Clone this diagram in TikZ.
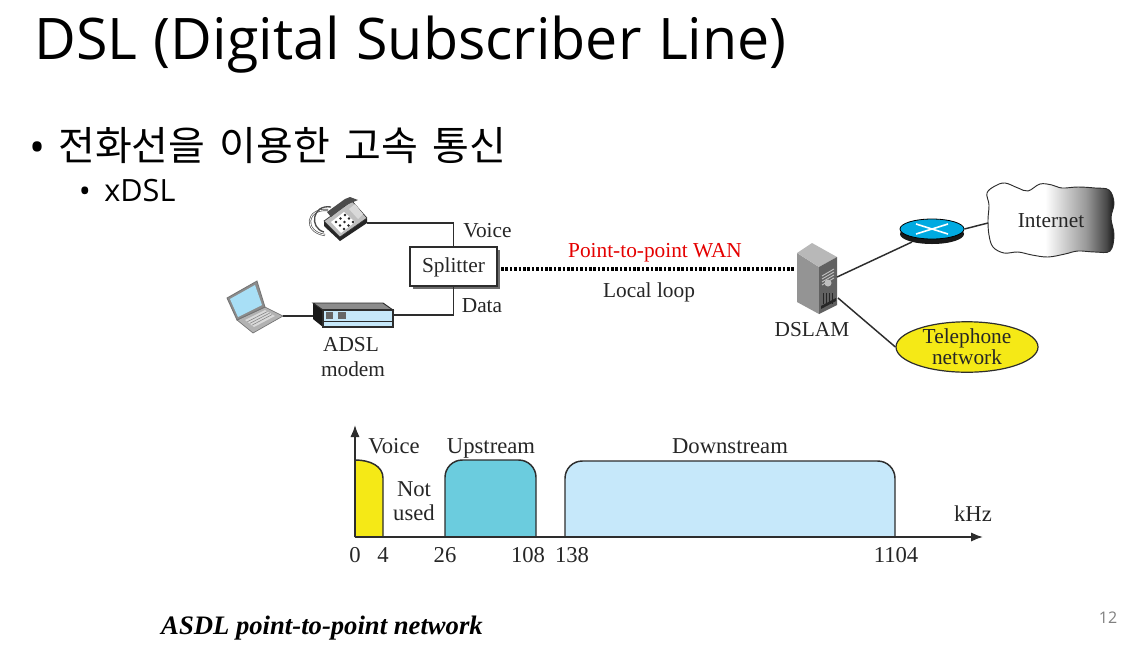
\documentclass[tikz,border=0pt]{standalone}
\usepackage{fontspec}
\setmainfont{Liberation Serif}
\newfontfamily\slidefont[WordSpace=1.12]{Open Sans}
\newfontfamily\krfont[WordSpace=1.6]{Noto Sans CJK KR}
\usetikzlibrary{shapes.geometric,arrows.meta}
\definecolor{voiceyellow}{RGB}{245,233,22}
\definecolor{upcyan}{RGB}{107,204,222}
\definecolor{downblue}{RGB}{198,232,250}
\definecolor{routerblue}{RGB}{0,170,225}
\definecolor{linegray}{RGB}{45,45,45}
\definecolor{boxshadow}{RGB}{110,110,110}
\pgfdeclarehorizontalshading{cloudshade}{100bp}{color(0bp)=(white); color(48bp)=(white); color(64bp)=(black!40); color(72bp)=(black!72); color(75bp)=(black!92); color(100bp)=(black!92)}
\begin{document}
\begin{tikzpicture}[
    x=0.75pt, y=-0.75pt,
    lbl/.style={font=\fontsize{16}{16}\selectfont, inner sep=0, text=black!85, text height=10.5pt, text depth=3.5pt},
    chartlbl/.style={lbl, font=\fontsize{17}{17}\selectfont},
    wire/.style={draw=linegray, line width=1.1pt},
    band/.style={draw=linegray, line width=1.1pt},
    axisline/.style={-{Latex[length=9pt,width=7pt]}, draw=linegray, line width=1.3pt}
]
\useasboundingbox[fill=white] (0,0) rectangle (1133,644);

% Slide text
\node[font=\slidefont\fontsize{43}{43}\selectfont, anchor=base west, inner sep=0] (title) at (34,59) {DSL (Digital Subscriber Line)};
\node[font=\slidefont\fontsize{32}{32}\selectfont, anchor=base, inner sep=0] (bulleta) at (38,162) {•};
\node[font=\krfont\fontsize{30}{30}\selectfont, anchor=west, inner sep=0] (topic) at (58,146) {전화선을 이용한 고속 통신};
\node[font=\slidefont\fontsize{24}{24}\selectfont, anchor=base, inner sep=0] (bulletb) at (85,202) {•};
\node[font=\slidefont\fontsize{23}{23}\selectfont, anchor=west, inner sep=0] (xdsl) at (104,191) {xDSL};

% Telephone
\draw[black!70, line width=1.6pt] (328,210) .. controls (306,208) and (303,232) .. (325,235);
\draw[white, line width=0.6pt] (328,210) .. controls (306,208) and (303,232) .. (325,235);
\draw[black!70, line width=1pt] (331,207) .. controls (312,204) and (309,228) .. (324,232);
\fill[black!85] (324,222) -- (353,203) -- (367,219) -- (367,223) -- (340,241) -- (324,226) -- cycle;
\draw[black!80, line width=0.5pt, fill=black!25] (324,221) -- (352,201) -- (367,218) -- (340,237) -- cycle;
\fill[black!70] (327,212) -- (345,199) -- (350,197) -- (358,200) -- (346,205) -- (331,217) -- cycle;
\fill[white] (331,222) -- (344,212) -- (355,222) -- (341,233) -- cycle;
\foreach \i in {0,1,2} \foreach \j in {0,1,2}
    \fill[black!85] ({336+\i*4.5+\j*4},{222-\i*3.5+\j*3.5}) circle (1.3);
\fill[black!15] (349,209) -- (355,204) -- (363,214) -- (358,219) -- cycle;
\coordinate (phoneport) at (367,223);

% Laptop
\draw[black!55, line width=0.5pt, fill=black!30] (237,320) -- (265,307) -- (283,316) -- (253,333) -- cycle;
\draw[black!55, line width=0.6pt, fill=black!45] (227,298) -- (257,281) -- (265,307) -- (237,320) -- cycle;
\fill[downblue!85!routerblue] (230,299) -- (255,285) -- (262,305) -- (238,317) -- cycle;
\fill[black!15] (245,320) -- (265,310) -- (275,316) -- (254,327) -- cycle;
\foreach \i in {1,2,3}
    \draw[black!50, line width=0.4pt] ({245+\i*2.4},{320+\i*1.7}) -- ({265+\i*2.4},{310+\i*1.5});
\coordinate (laptopport) at (283,316);

% ADSL modem
\fill[black!90] (313,303) -- (323,310) -- (323,327) -- (313,319) -- cycle;
\draw[linegray, line width=0.7pt, fill=black!45] (313,303) -- (383,303) -- (393,310) -- (323,310) -- cycle;
\draw[linegray, line width=0.9pt, fill=downblue] (323,310) rectangle (393,327);
\draw[linegray, line width=0.5pt] (323,321) -- (393,321);
\fill[black!60] (326,312) rectangle (333,319);
\fill[black!60] (338,312) rectangle (346,319);
\coordinate (modemwest) at (313,316);
\coordinate (modemeast) at (393,315);
\node[lbl] (adsl) at (351,347) {ADSL};
\node[lbl] (modem) at (353,372) {modem};

% Splitter
\fill[boxshadow] (413,250) rectangle (500,289);
\node[lbl, text depth=2pt, draw=linegray, line width=0.8pt, fill=white, minimum width=65.25pt, minimum height=29.25pt] (splitter) at (453.5,266.5) {Splitter};
\node[lbl] (voice) at (487.5,233) {Voice};
\node[lbl] (data) at (482,308) {Data};
\draw[wire] (phoneport) -| (splitter.north);
\draw[wire] (modemeast) -| (splitter.south);
\draw[wire] (laptopport) -- (modemwest);

% DSLAM
\fill[black!42] (797,253) -- (819,267) -- (819,314) -- (797,302) -- cycle;
\fill[black!28] (797,253) -- (812,243) -- (837,257) -- (819,267) -- cycle;
\fill[black!62] (819,267) -- (837,257) -- (837,305) -- (819,314) -- cycle;
\foreach \i in {0,1,2,3}
    \draw[black!25, line width=0.7pt] (822,{276+\i*3}) -- (834,{269+\i*3});
\fill[black!25] (828,283) circle (3.5);
\foreach \i in {0,1,2,3}
    \draw[black!85, line width=0.6pt] ({823+\i*3},293) -- ({823+\i*3},304);
\fill[black!85] (821,306) -- (836,298) -- (836,301) -- (821,309) -- cycle;
\coordinate (dslamwest) at (795,269);
\coordinate (dslamup) at (837,277);
\coordinate (dslamdown) at (838,298);
\node[lbl] (dslam) at (812,332) {DSLAM};

% Local loop
\coordinate (splitterport) at (501,269);
\draw[line width=3pt, black, dash pattern=on 2pt off 1.3pt] (splitterport) -- (dslamwest);
\node[lbl, text=red!90!black] (wan) at (655,253) {Point-to-point WAN};
\node[lbl] (loop) at (649,293) {Local loop};

% Router
\fill[black!90] (932,234) ellipse [x radius=32, y radius=10];
\node[ellipse, draw=black, line width=0.6pt, fill=routerblue, minimum width=48pt, minimum height=15pt, inner sep=0] (router) at (932,229) {};
\draw[white, line width=1.2pt] (916,224) -- (948,234) (916,234) -- (948,224);
\draw[wire] (dslamup) -- (912,242);
\draw[wire] (router.east) -- (988,223);

% Internet
\path[shading=cloudshade, draw=linegray, line width=0.7pt] plot[smooth cycle, tension=0.6] coordinates {
    (987,193) (995,186) (1005,183) (1018,188) (1028,191) (1040,184) (1052,185) (1062,188)
    (1078,187) (1095,188) (1109,190) (1114,203) (1111,218) (1114,235) (1110,251)
    (1095,252) (1078,251) (1065,254) (1048,257) (1032,255) (1018,252) (1004,253) (993,247)
    (989,235) (988,220) (989,205)};
\node[lbl] (internet) at (1051,223) {Internet};

% Telephone network
\node[ellipse, draw=linegray, line width=0.9pt, fill=voiceyellow, minimum width=106.5pt, minimum height=36pt, inner sep=0,
      font=\fontsize{16}{13.5}\selectfont, text=black!85, align=center] (telnet) at (967,347) {Telephone\\network};
\draw[wire] (dslamdown) -- (telnet.west);

% Spectrum
\coordinate (origin) at (355,537);
\coordinate (yend) at (355,425);
\coordinate (xend) at (983,537);
\draw[band, fill=voiceyellow] (355,537) -- (355,460) .. controls (370,460) and (383,466) .. (383,478) -- (383,537);
\draw[band, fill=upcyan, rounded corners=13pt] (445,537) -- (445,460) -- (536,460) -- (536,537);
\draw[band, fill=downblue, rounded corners=13pt] (565,537) -- (565,461) -- (895,461) -- (895,537);
\draw[axisline] (origin) -- (yend);
\draw[axisline] (origin) -- (xend);
\node[chartlbl] (voiceband) at (394,449) {Voice};
\node[chartlbl] (upband) at (491,449) {Upstream};
\node[chartlbl] (downband) at (730,449) {Downstream};
\node[chartlbl] (notused) at (414,492) {Not};
\node[chartlbl] (notusedb) at (414,516) {used};
\node[chartlbl] (khz) at (973,517) {kHz};
\node[chartlbl] (tzero) at (355,558) {0};
\node[chartlbl] (tfour) at (383,558) {4};
\node[chartlbl] (ttwentysix) at (445,558) {26};
\node[chartlbl] (thundredeight) at (528,558) {108};
\node[chartlbl] (thundredthirtyeight) at (572,558) {138};
\node[chartlbl] (televenfour) at (896,558) {1104};

% Caption and page number
\node[font=\bfseries\itshape\fontsize{20}{20}\selectfont, inner sep=0, text height=13pt, text depth=4pt] (caption) at (322,628) {ASDL point-to-point network};
\node[font=\slidefont\fontsize{12}{12}\selectfont, text=black!50, inner sep=0] (page) at (1108,618) {12};
\end{tikzpicture}
\end{document}
